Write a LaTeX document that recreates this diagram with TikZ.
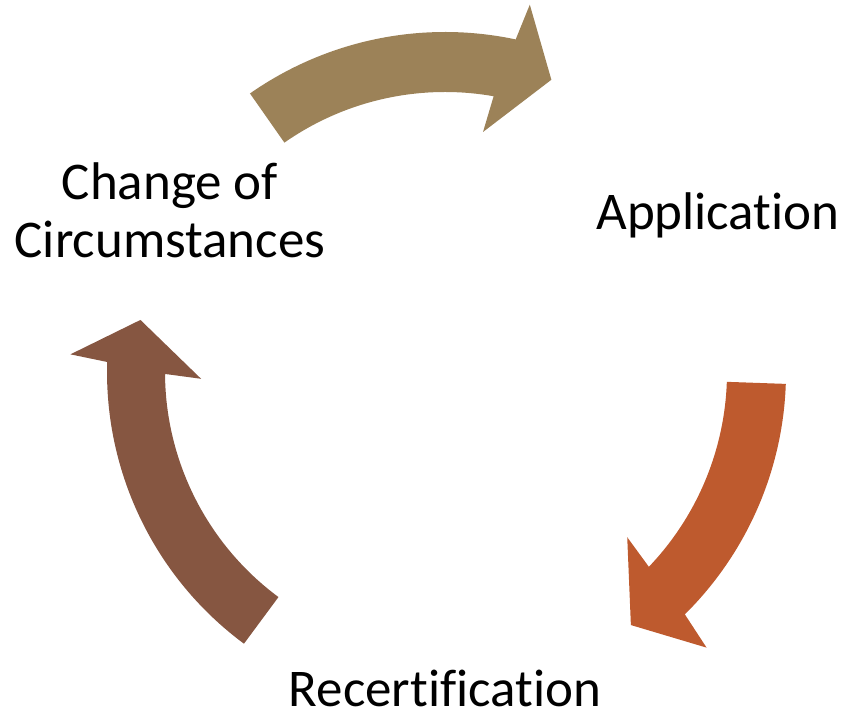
\documentclass[tikz,border=0pt]{standalone}
\usepackage{fontspec}
\setmainfont{Carlito}[Ligatures=NoCommon]
\usepackage{tikz}
\definecolor{CycTan}{HTML}{9C8258}
\definecolor{CycRust}{HTML}{BE5A2E}
\definecolor{CycBrown}{HTML}{865641}
\tikzset{
  stagetext/.style={inner sep=0pt,font=\fontsize{53}{58}\selectfont,anchor=base},
  cyclearrow/.style={draw=none}
}
\begin{document}
\begin{tikzpicture}[x=1pt,y=1pt]
  \useasboundingbox (0,0) rectangle (846,710);
  \coordinate (hub) at (445,338);
  % three curved arrows round the hub, running clockwise
  \begin{scope}[shift={(hub)}]
    \fill[cyclearrow,CycTan] (125:340) arc[start angle=125,end angle=78,radius=340]
      -- (77:377) -- (70:311) -- (81:243) -- (80:280)
      arc[start angle=80,end angle=125,radius=280] -- cycle;
    \fill[cyclearrow,CycRust] (-2:341) arc[start angle=-2,end angle=-45.3,radius=341]
      -- (-46.5:380) -- (-53.7:314) -- (-42.2:246) -- (-43.7:282)
      arc[start angle=-43.7,end angle=-2,radius=282] -- cycle;
    \fill[cyclearrow,CycBrown] (233.5:338) arc[start angle=233.5,end angle=178.3,radius=338]
      -- (177.3:375) -- (170.3:309) -- (181.6:244) -- (180.4:280)
      arc[start angle=180.4,end angle=233.5,radius=280] -- cycle;
  \end{scope}
  \node[stagetext] (app) at (718,480) {Application};
  \node[stagetext] (recert) at (445,4) {Recertification};
  \node[stagetext,align=center] (change) at (170,452) {Change of\\Circumstances};
\end{tikzpicture}
\end{document}
